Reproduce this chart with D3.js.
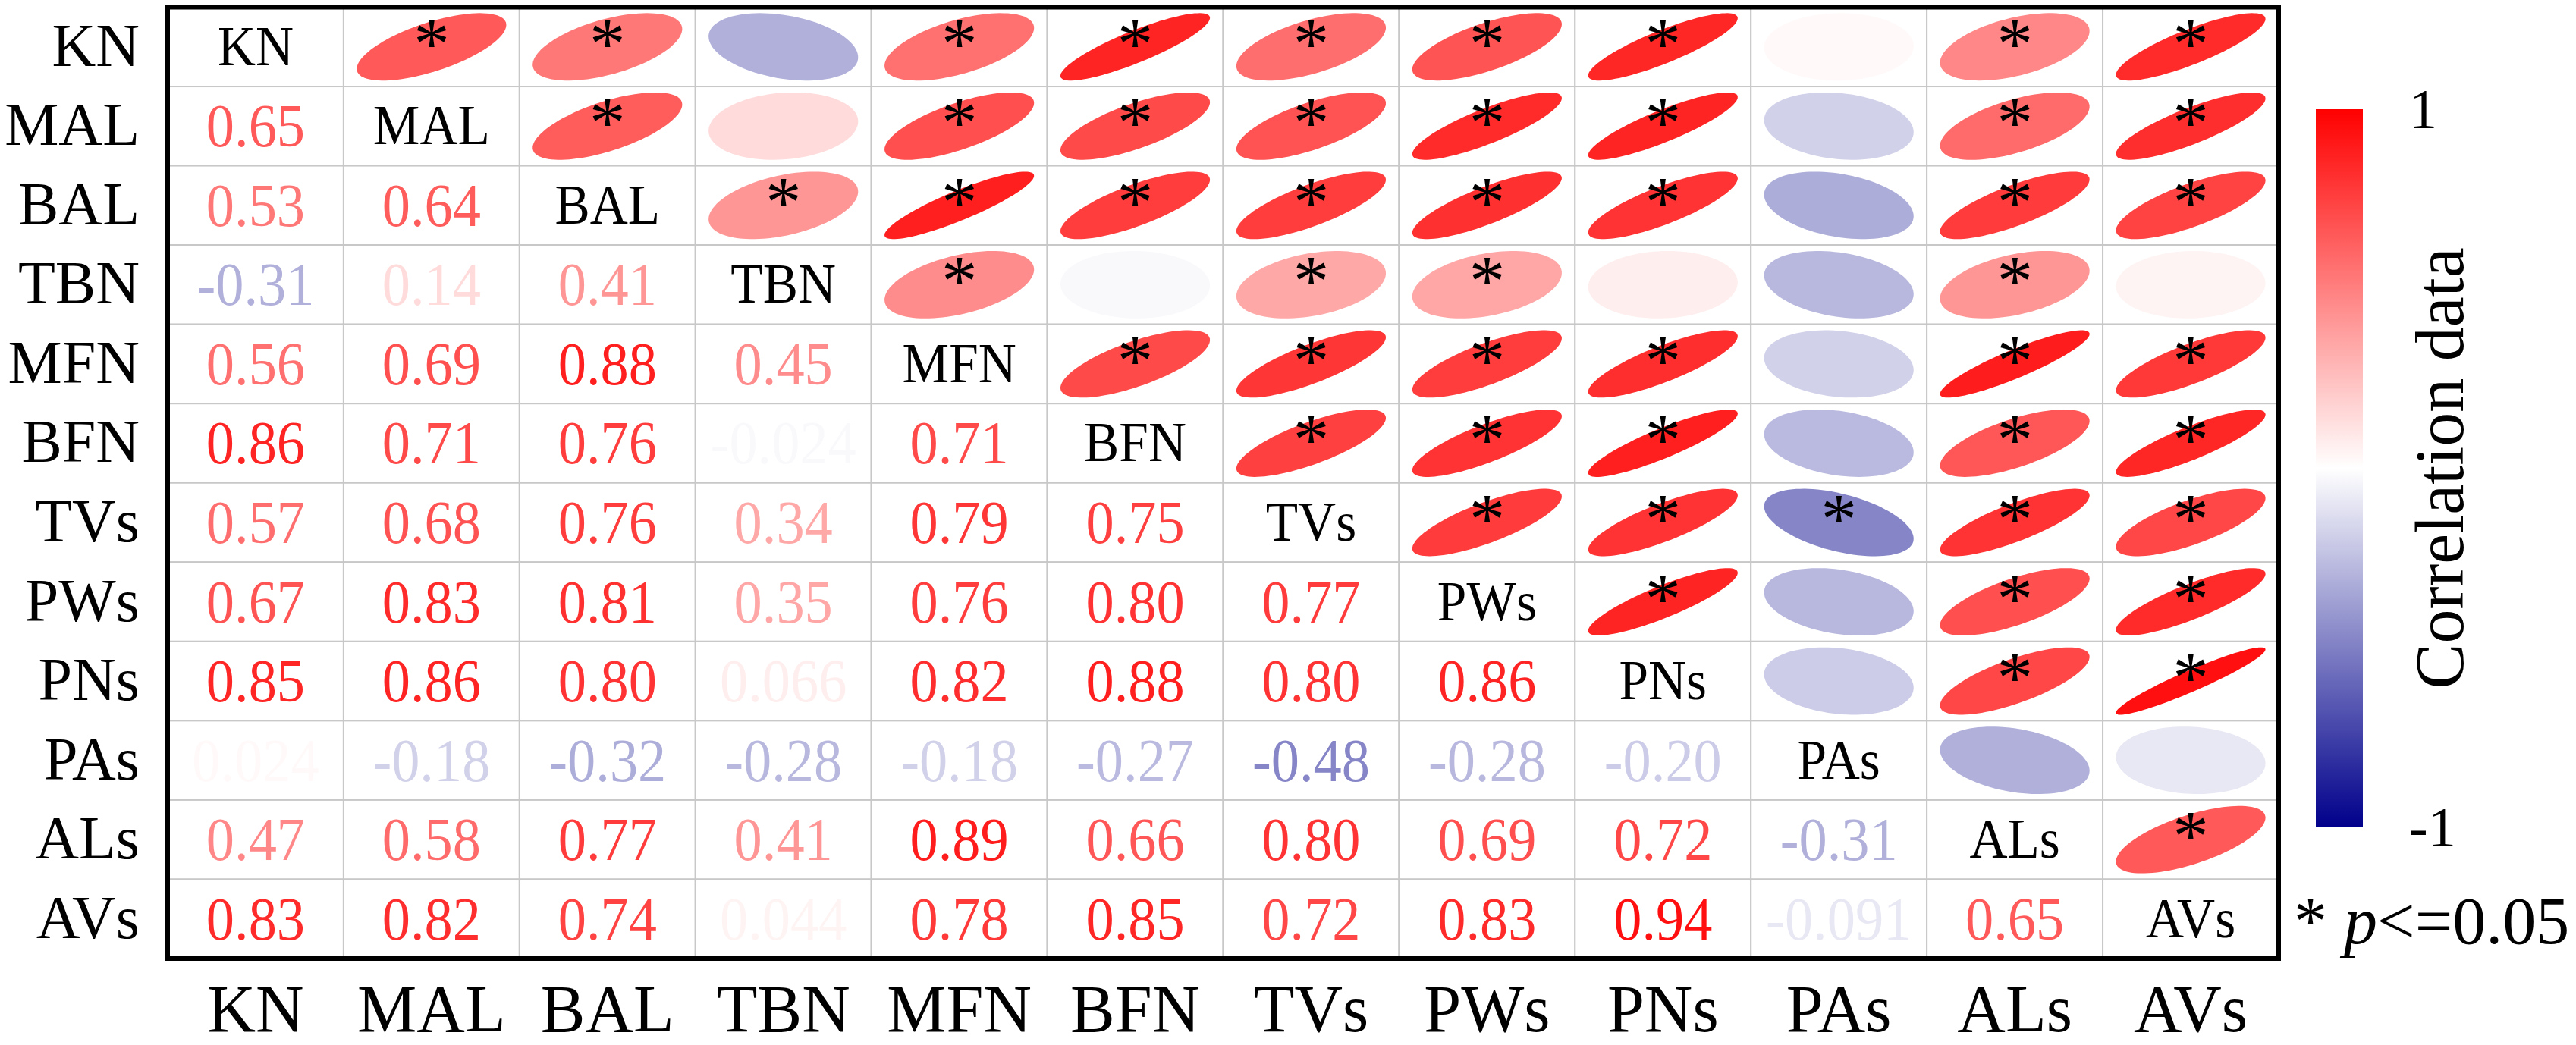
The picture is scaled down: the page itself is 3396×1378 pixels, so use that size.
<!DOCTYPE html>
<html lang="en">

<head>
    <title>Correlation matrix</title>
    <meta charset="UTF-8">
    <script src="https://cdn.jsdelivr.net/npm/d3@7/dist/d3.min.js"></script>
    <style>
        html, body {
            margin: 0;
            padding: 0;
            background: #fff;
        }
        svg {
            display: block;
            font-family: "Liberation Serif", "Times New Roman", serif;
        }
    </style>
</head>

<body>
    <script>
        // variable names (rows / columns)
        var vars = ['KN', 'MAL', 'BAL', 'TBN', 'MFN', 'BFN', 'TVs', 'PWs', 'PNs', 'PAs', 'ALs', 'AVs'];

        // lower triangle: row i holds r(vars[i], vars[0..i-1])
        var corrLower = [
            [],
            [0.65],
            [0.53, 0.64],
            [-0.31, 0.14, 0.41],
            [0.56, 0.69, 0.88, 0.45],
            [0.86, 0.71, 0.76, -0.024, 0.71],
            [0.57, 0.68, 0.76, 0.34, 0.79, 0.75],
            [0.67, 0.83, 0.81, 0.35, 0.76, 0.80, 0.77],
            [0.85, 0.86, 0.80, 0.066, 0.82, 0.88, 0.80, 0.86],
            [0.024, -0.18, -0.32, -0.28, -0.18, -0.27, -0.48, -0.28, -0.20],
            [0.47, 0.58, 0.77, 0.41, 0.89, 0.66, 0.80, 0.69, 0.72, -0.31],
            [0.83, 0.82, 0.74, 0.044, 0.78, 0.85, 0.72, 0.83, 0.94, -0.091, 0.65]
        ];

        // upper triangle: row i holds p<=0.05 flags for vars[i+1..]
        var sigUpper = [
            [1, 1, 0, 1, 1, 1, 1, 1, 0, 1, 1],
            [1, 0, 1, 1, 1, 1, 1, 0, 1, 1],
            [1, 1, 1, 1, 1, 1, 0, 1, 1],
            [1, 0, 1, 1, 0, 0, 1, 0],
            [1, 1, 1, 1, 0, 1, 1],
            [1, 1, 1, 0, 1, 1],
            [1, 1, 1, 1, 1],
            [1, 0, 1, 1],
            [0, 1, 1],
            [0, 0],
            [1],
            []
        ];

        var barTicks = [-1, 1];
        var barTitle = 'Correlation data';
        var sigNote = 'p<=0.05';

        var width = 3396,
            height = 1378;

        var svg = d3.select('body').append('svg')
            .attr('width', width)
            .attr('height', height);

        svg.append('rect').attr('width', width).attr('height', height).attr('fill', '#fff');

        //build cell table from the arrays
        var cells = [];
        vars.forEach(function(rv, i) {
            vars.forEach(function(cv, j) {
                var r = i === j ? 1 : (i > j ? corrLower[i][j] : corrLower[j][i]);
                var s = i < j ? sigUpper[i][j - i - 1] : 0;
                cells.push({ row: rv, col: cv, i: i, j: j, r: r, sig: s });
            });
        });

        var x = d3.scaleBand().domain(vars).range([221, 3004]);
        var y = d3.scaleBand().domain(vars).range([9.5, 1264]);
        var bw = x.bandwidth(),
            bh = y.bandwidth();

        var color = d3.scaleLinear()
            .domain([-1, 0, 1])
            .range(['#00008B', '#FFFFFF', '#FF0000']);

        var fmt = d3.formatLocale({
            decimal: '.',
            thousands: ',',
            grouping: [3],
            currency: ['', ''],
            minus: '-'
        }).format('.2r');

        var g = svg.append('g').attr('class', 'matrix');

        //grid
        g.selectAll('rect.cell')
            .data(cells)
            .enter()
            .append('rect')
            .attr('class', 'cell')
            .attr('x', function(d) { return x(d.col); })
            .attr('y', function(d) { return y(d.row); })
            .attr('width', bw)
            .attr('height', bh)
            .attr('fill', '#fff')
            .attr('stroke', '#c8c8c8')
            .attr('stroke-width', 2);

        //ellipses (corrplot style) in the upper triangle
        var ex = d3.scaleLinear().domain([-0.5, 0.5]).range([-bw / 2, bw / 2]);
        var ey = d3.scaleLinear().domain([-0.5, 0.5]).range([bh / 2, -bh / 2]);
        var steps = d3.range(0, 100).map(function(k) { return k / 99 * 2 * Math.PI; });

        function ellipsePath(r) {
            var a = Math.acos(r) / 2;
            var line = d3.line()
                .x(function(t) { return ex(0.85 * Math.cos(t + a) / 2); })
                .y(function(t) { return ey(0.85 * Math.cos(t - a) / 2); });
            return line(steps) + 'Z';
        }

        var upper = cells.filter(function(d) { return d.i < d.j; });

        g.selectAll('path.ell')
            .data(upper)
            .enter()
            .append('path')
            .attr('class', 'ell')
            .attr('transform', function(d) {
                return 'translate(' + (x(d.col) + bw / 2) + ',' + (y(d.row) + bh / 2) + ')';
            })
            .attr('d', function(d) { return ellipsePath(d.r); })
            .attr('fill', function(d) { return color(d.r); });

        g.selectAll('text.star')
            .data(upper.filter(function(d) { return d.sig; }))
            .enter()
            .append('text')
            .attr('class', 'star')
            .attr('x', function(d) { return x(d.col) + bw / 2; })
            .attr('y', function(d) { return y(d.row) + bh / 2 + 28; })
            .attr('text-anchor', 'middle')
            .attr('font-size', 95)
            .attr('fill', '#000')
            .text('*');

        //numbers in the lower triangle
        g.selectAll('text.num')
            .data(cells.filter(function(d) { return d.i > d.j; }))
            .enter()
            .append('text')
            .attr('class', 'num')
            .attr('transform', function(d) {
                return 'translate(' + (x(d.col) + bw / 2) + ',' + (y(d.row) + bh / 2 + 27) + ') scale(0.93,1)';
            })
            .attr('text-anchor', 'middle')
            .attr('font-size', 80)
            .attr('fill', function(d) { return color(d.r); })
            .text(function(d) { return fmt(d.r); });

        //diagonal names
        g.selectAll('text.diag')
            .data(cells.filter(function(d) { return d.i === d.j; }))
            .enter()
            .append('text')
            .attr('class', 'diag')
            .attr('transform', function(d) {
                return 'translate(' + (x(d.col) + bw / 2) + ',' + (y(d.row) + bh / 2 + 24) + ') scale(0.95,1)';
            })
            .attr('text-anchor', 'middle')
            .attr('font-size', 73)
            .attr('fill', '#000')
            .text(function(d) { return d.row; });

        //frame
        g.append('rect')
            .attr('x', 221)
            .attr('y', 9.5)
            .attr('width', 3004 - 221)
            .attr('height', 1264 - 9.5)
            .attr('fill', 'none')
            .attr('stroke', '#000')
            .attr('stroke-width', 6);

        //row labels
        svg.append('g').selectAll('text')
            .data(vars)
            .enter()
            .append('text')
            .attr('x', 184)
            .attr('y', function(d) { return y(d) + bh / 2 + 25; })
            .attr('text-anchor', 'end')
            .attr('font-size', 80)
            .text(function(d) { return d; });

        //column labels
        svg.append('g').selectAll('text')
            .data(vars)
            .enter()
            .append('text')
            .attr('x', function(d) { return x(d) + bw / 2; })
            .attr('y', 1360)
            .attr('text-anchor', 'middle')
            .attr('font-size', 88)
            .text(function(d) { return d; });

        //color bar
        var barY = d3.scaleLinear().domain([-1, 1]).range([1091, 144]);
        var defs = svg.append('defs');
        var grad = defs.append('linearGradient')
            .attr('id', 'cbar')
            .attr('x1', 0).attr('y1', 1).attr('x2', 0).attr('y2', 0);
        grad.selectAll('stop')
            .data(color.domain())
            .enter()
            .append('stop')
            .attr('offset', function(d) { return (d + 1) / 2; })
            .attr('stop-color', function(d) { return color(d); });

        svg.append('rect')
            .attr('x', 3053)
            .attr('y', barY(1))
            .attr('width', 62)
            .attr('height', barY(-1) - barY(1))
            .attr('fill', 'url(#cbar)');

        svg.append('g').selectAll('text')
            .data(barTicks)
            .enter()
            .append('text')
            .attr('x', 3176)
            .attr('y', function(d) { return barY(d) + 25; })
            .attr('font-size', 74)
            .text(function(d) { return d < 0 ? '-' + Math.abs(d) : String(d); });

        svg.append('text')
            .attr('transform', 'translate(3247,' + barY(0) + ') rotate(-90)')
            .attr('text-anchor', 'middle')
            .attr('font-size', 90)
            .text(barTitle);

        //significance note
        var note = svg.append('text')
            .attr('x', 3024)
            .attr('y', 1244)
            .attr('font-size', 88);
        note.append('tspan').text('* ');
        note.append('tspan').attr('font-style', 'italic').text(sigNote.charAt(0));
        note.append('tspan').text(sigNote.slice(1));
    </script>
</body>

</html>
